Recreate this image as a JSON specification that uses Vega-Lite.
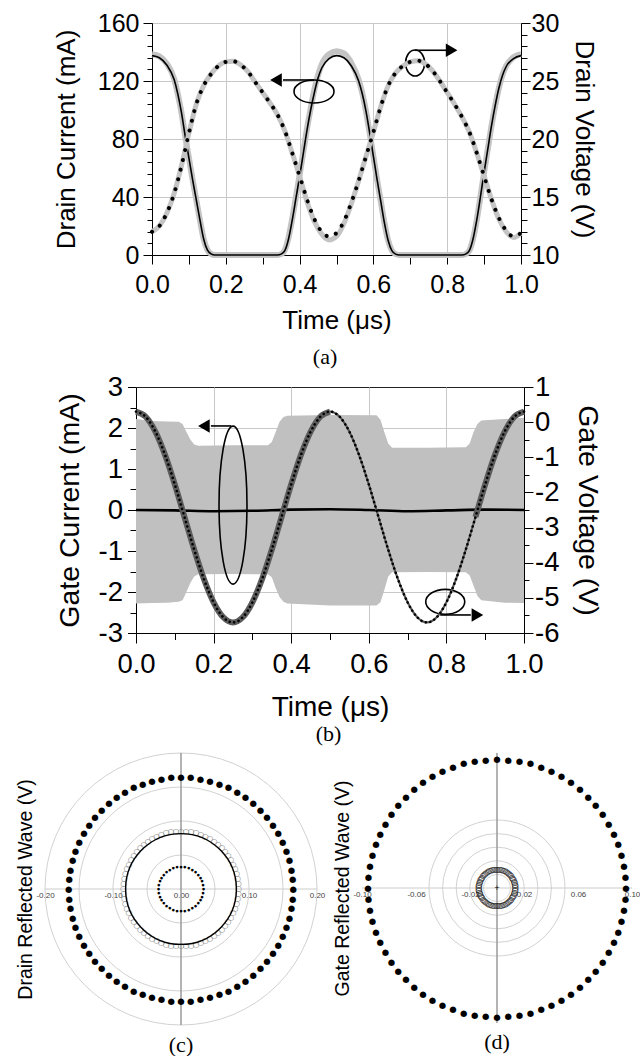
{
"$schema":"https://vega.github.io/schema/vega-lite/v6.json",
"background":"white",
"padding":{"left":15,"top":10,"right":0,"bottom":0},
"config":{
 "font":"Liberation Sans",
 "view":{"stroke":"#222","strokeWidth":1},
 "axis":{"labelFont":"Liberation Sans","titleFont":"Liberation Sans","labelColor":"black","titleColor":"black","tickColor":"black","domainColor":"black","gridColor":"#c8c8c8","titleFontWeight":"normal","labelFlush":false,"labelOverlap":false,"tickWidth":1,"domainWidth":1},
 "title":{"font":"Liberation Serif","fontWeight":"normal","fontSize":22,"color":"black"}
},
"datasets":{
 "drainI":[
  {"t":0.00,"Id_sim":137.5,"Id_meas":138.5},{"t":0.02,"Id_sim":136,"Id_meas":137},{"t":0.04,"Id_sim":131,"Id_meas":132},{"t":0.06,"Id_sim":121,"Id_meas":121.5},{"t":0.07,"Id_sim":111,"Id_meas":111},{"t":0.08,"Id_sim":98,"Id_meas":98},{"t":0.09,"Id_sim":82,"Id_meas":82},{"t":0.10,"Id_sim":67,"Id_meas":67},{"t":0.11,"Id_sim":52,"Id_meas":52},{"t":0.12,"Id_sim":38,"Id_meas":38},{"t":0.13,"Id_sim":24,"Id_meas":24},{"t":0.14,"Id_sim":11,"Id_meas":11},{"t":0.15,"Id_sim":3.5,"Id_meas":3.5},{"t":0.16,"Id_sim":0.8,"Id_meas":0.8},{"t":0.17,"Id_sim":0,"Id_meas":0},
  {"t":0.34,"Id_sim":0,"Id_meas":0},{"t":0.35,"Id_sim":0.6,"Id_meas":0.6},{"t":0.36,"Id_sim":3,"Id_meas":3.5},{"t":0.37,"Id_sim":11,"Id_meas":12},{"t":0.38,"Id_sim":24,"Id_meas":25},{"t":0.39,"Id_sim":39,"Id_meas":40},{"t":0.40,"Id_sim":54,"Id_meas":55},{"t":0.41,"Id_sim":70,"Id_meas":71},{"t":0.42,"Id_sim":86,"Id_meas":87},{"t":0.43,"Id_sim":100,"Id_meas":101},{"t":0.44,"Id_sim":112,"Id_meas":114},{"t":0.45,"Id_sim":122,"Id_meas":124},{"t":0.46,"Id_sim":129,"Id_meas":131.5},{"t":0.48,"Id_sim":135.5,"Id_meas":138.5},{"t":0.50,"Id_sim":137.5,"Id_meas":140.5},{"t":0.52,"Id_sim":136,"Id_meas":139},{"t":0.54,"Id_sim":130.5,"Id_meas":132.5},{"t":0.56,"Id_sim":120,"Id_meas":121},{"t":0.57,"Id_sim":111,"Id_meas":111.5},{"t":0.58,"Id_sim":99,"Id_meas":99},{"t":0.59,"Id_sim":84,"Id_meas":84},{"t":0.60,"Id_sim":68,"Id_meas":68},{"t":0.61,"Id_sim":52,"Id_meas":52},{"t":0.62,"Id_sim":37,"Id_meas":37},{"t":0.63,"Id_sim":22,"Id_meas":22},{"t":0.64,"Id_sim":10,"Id_meas":10},{"t":0.65,"Id_sim":3,"Id_meas":3},{"t":0.66,"Id_sim":0.6,"Id_meas":0.6},{"t":0.67,"Id_sim":0,"Id_meas":0},
  {"t":0.84,"Id_sim":0,"Id_meas":0},{"t":0.85,"Id_sim":0.6,"Id_meas":0.6},{"t":0.86,"Id_sim":3,"Id_meas":3},{"t":0.87,"Id_sim":11,"Id_meas":11},{"t":0.88,"Id_sim":24,"Id_meas":24},{"t":0.89,"Id_sim":40,"Id_meas":40},{"t":0.90,"Id_sim":57,"Id_meas":57},{"t":0.91,"Id_sim":73,"Id_meas":73},{"t":0.92,"Id_sim":89,"Id_meas":89},{"t":0.93,"Id_sim":103,"Id_meas":103},{"t":0.94,"Id_sim":115,"Id_meas":115},{"t":0.95,"Id_sim":124,"Id_meas":124.5},{"t":0.96,"Id_sim":130,"Id_meas":130.5},{"t":0.98,"Id_sim":135.5,"Id_meas":136.5},{"t":1.00,"Id_sim":137.5,"Id_meas":138.5}
 ],
 "drainV":[
  {"t":0.00,"Vd_sim":12.0,"Vd_meas":12.0},{"t":0.02,"Vd_sim":12.5,"Vd_meas":12.5},{"t":0.04,"Vd_sim":13.6,"Vd_meas":13.6},{"t":0.06,"Vd_sim":15.3,"Vd_meas":15.3},{"t":0.08,"Vd_sim":17.7,"Vd_meas":17.7},{"t":0.10,"Vd_sim":20.5,"Vd_meas":20.5},{"t":0.12,"Vd_sim":23.0,"Vd_meas":23.0},{"t":0.14,"Vd_sim":24.6,"Vd_meas":24.6},{"t":0.16,"Vd_sim":25.6,"Vd_meas":25.6},{"t":0.18,"Vd_sim":26.3,"Vd_meas":26.3},{"t":0.20,"Vd_sim":26.65,"Vd_meas":26.65},{"t":0.22,"Vd_sim":26.7,"Vd_meas":26.7},{"t":0.24,"Vd_sim":26.4,"Vd_meas":26.4},{"t":0.26,"Vd_sim":25.8,"Vd_meas":25.8},{"t":0.28,"Vd_sim":24.9,"Vd_meas":24.9},{"t":0.30,"Vd_sim":24.0,"Vd_meas":24.0},{"t":0.32,"Vd_sim":23.1,"Vd_meas":23.1},{"t":0.34,"Vd_sim":22.1,"Vd_meas":22.1},{"t":0.36,"Vd_sim":20.7,"Vd_meas":20.7},{"t":0.38,"Vd_sim":18.8,"Vd_meas":18.8},{"t":0.40,"Vd_sim":16.8,"Vd_meas":16.8},{"t":0.42,"Vd_sim":14.8,"Vd_meas":14.6},{"t":0.44,"Vd_sim":13.1,"Vd_meas":12.9},{"t":0.46,"Vd_sim":12.0,"Vd_meas":11.8},{"t":0.48,"Vd_sim":11.6,"Vd_meas":11.3},{"t":0.50,"Vd_sim":11.9,"Vd_meas":11.6},{"t":0.52,"Vd_sim":12.9,"Vd_meas":12.7},{"t":0.54,"Vd_sim":14.5,"Vd_meas":14.4},{"t":0.56,"Vd_sim":16.4,"Vd_meas":16.4},{"t":0.58,"Vd_sim":18.5,"Vd_meas":18.5},{"t":0.60,"Vd_sim":20.6,"Vd_meas":20.6},{"t":0.62,"Vd_sim":22.8,"Vd_meas":22.8},{"t":0.64,"Vd_sim":24.6,"Vd_meas":24.6},{"t":0.66,"Vd_sim":25.7,"Vd_meas":25.7},{"t":0.68,"Vd_sim":26.3,"Vd_meas":26.3},{"t":0.70,"Vd_sim":26.65,"Vd_meas":26.65},{"t":0.72,"Vd_sim":26.75,"Vd_meas":26.75},{"t":0.74,"Vd_sim":26.5,"Vd_meas":26.5},{"t":0.76,"Vd_sim":25.9,"Vd_meas":25.9},{"t":0.78,"Vd_sim":25.0,"Vd_meas":25.0},{"t":0.80,"Vd_sim":24.0,"Vd_meas":24.0},{"t":0.82,"Vd_sim":23.0,"Vd_meas":23.0},{"t":0.84,"Vd_sim":21.9,"Vd_meas":21.9},{"t":0.86,"Vd_sim":20.6,"Vd_meas":20.6},{"t":0.88,"Vd_sim":18.8,"Vd_meas":18.8},{"t":0.90,"Vd_sim":16.8,"Vd_meas":16.8},{"t":0.92,"Vd_sim":14.8,"Vd_meas":14.8},{"t":0.94,"Vd_sim":13.2,"Vd_meas":13.1},{"t":0.96,"Vd_sim":12.1,"Vd_meas":12.0},{"t":0.98,"Vd_sim":11.6,"Vd_meas":11.5},{"t":1.00,"Vd_sim":11.9,"Vd_meas":11.9}
 ],
 "annA":[
  {"id":"ellL","t":0.439,"y":112.8},
  {"id":"ellR","t":0.713,"y":132.4},
  {"id":"line","t":0.439,"t2":0.355,"y":120.7},
  {"id":"line","t":0.713,"t2":0.797,"y":141.2},
  {"id":"headL","t":0.336,"y":120.7},
  {"id":"headR","t":0.812,"y":141.2}
 ],
 "gateBand":[
  {"t":0.00,"hi":2.22,"lo":-2.28},{"t":0.04,"hi":2.17,"lo":-2.27},{"t":0.08,"hi":2.16,"lo":-2.26},{"t":0.11,"hi":2.15,"lo":-2.24},{"t":0.12,"hi":2.1,"lo":-2.2},{"t":0.13,"hi":1.9,"lo":-2.0},{"t":0.14,"hi":1.72,"lo":-1.78},{"t":0.15,"hi":1.6,"lo":-1.62},{"t":0.16,"hi":1.57,"lo":-1.57},{"t":0.25,"hi":1.58,"lo":-1.56},{"t":0.34,"hi":1.58,"lo":-1.57},{"t":0.35,"hi":1.66,"lo":-1.64},{"t":0.36,"hi":1.9,"lo":-1.9},{"t":0.37,"hi":2.15,"lo":-2.12},{"t":0.38,"hi":2.27,"lo":-2.24},{"t":0.39,"hi":2.3,"lo":-2.28},{"t":0.50,"hi":2.32,"lo":-2.33},{"t":0.62,"hi":2.31,"lo":-2.33},{"t":0.63,"hi":2.2,"lo":-2.25},{"t":0.64,"hi":1.9,"lo":-1.95},{"t":0.65,"hi":1.62,"lo":-1.62},{"t":0.66,"hi":1.52,"lo":-1.52},{"t":0.75,"hi":1.52,"lo":-1.51},{"t":0.85,"hi":1.53,"lo":-1.52},{"t":0.86,"hi":1.62,"lo":-1.6},{"t":0.87,"hi":1.9,"lo":-1.85},{"t":0.88,"hi":2.1,"lo":-2.1},{"t":0.89,"hi":2.18,"lo":-2.2},{"t":0.95,"hi":2.22,"lo":-2.26},{"t":1.00,"hi":2.25,"lo":-2.27}
 ],
 "gateI":[
  {"t":0,"Ig":0.0},{"t":0.1,"Ig":-0.01},{"t":0.2,"Ig":-0.03},{"t":0.3,"Ig":-0.02},{"t":0.4,"Ig":0.01},{"t":0.5,"Ig":0.02},{"t":0.6,"Ig":0.0},{"t":0.7,"Ig":-0.03},{"t":0.8,"Ig":-0.01},{"t":0.9,"Ig":0.01},{"t":1.0,"Ig":0.0}
 ],
 "gateV":[
  {"t":0,"Vg":0.3},{"t":0.025,"Vg":0.153},{"t":0.05,"Vg":-0.273},{"t":0.075,"Vg":-0.937},{"t":0.1,"Vg":-1.773},{"t":0.125,"Vg":-2.7},{"t":0.15,"Vg":-3.627},{"t":0.175,"Vg":-4.463},{"t":0.2,"Vg":-5.127},{"t":0.225,"Vg":-5.553},{"t":0.25,"Vg":-5.7},{"t":0.275,"Vg":-5.553},{"t":0.3,"Vg":-5.127},{"t":0.325,"Vg":-4.463},{"t":0.35,"Vg":-3.627},{"t":0.375,"Vg":-2.7},{"t":0.4,"Vg":-1.773},{"t":0.425,"Vg":-0.937},{"t":0.45,"Vg":-0.273},{"t":0.475,"Vg":0.153},{"t":0.5,"Vg":0.3},{"t":0.525,"Vg":0.153},{"t":0.55,"Vg":-0.273},{"t":0.575,"Vg":-0.937},{"t":0.6,"Vg":-1.773},{"t":0.625,"Vg":-2.7},{"t":0.65,"Vg":-3.627},{"t":0.675,"Vg":-4.463},{"t":0.7,"Vg":-5.127},{"t":0.725,"Vg":-5.553},{"t":0.75,"Vg":-5.7},{"t":0.775,"Vg":-5.553},{"t":0.8,"Vg":-5.127},{"t":0.825,"Vg":-4.463},{"t":0.85,"Vg":-3.627},{"t":0.875,"Vg":-2.7},{"t":0.9,"Vg":-1.773},{"t":0.925,"Vg":-0.937},{"t":0.95,"Vg":-0.273},{"t":0.975,"Vg":0.153},{"t":1.0,"Vg":0.3}
 ],
 "annB":[
  {"id":"ellL","t":0.25,"y":0.12},
  {"id":"ellR","t":0.797,"y":-2.24},
  {"id":"line","t":0.245,"t2":0.193,"y":2.05},
  {"id":"line","t":0.784,"t2":0.863,"y":-2.56},
  {"id":"headL","t":0.175,"y":2.05},
  {"id":"headR","t":0.88,"y":-2.56}
 ],
 "gridC":[{"g":0.05},{"g":0.1},{"g":0.15},{"g":0.2}],
 "gridD":[{"g":0.02},{"g":0.04},{"g":0.06},{"g":0.08},{"g":0.1}],
 "solidC":[{"g":0.0815}],
 "centerD":[{"a":0,"r":0}],
 "innerC":[
  {"a":0,"r":0.033},{"a":10,"r":0.033},{"a":20,"r":0.033},{"a":30,"r":0.033},{"a":40,"r":0.033},{"a":50,"r":0.033},{"a":60,"r":0.033},{"a":70,"r":0.033},{"a":80,"r":0.033},{"a":90,"r":0.033},{"a":100,"r":0.033},{"a":110,"r":0.033},{"a":120,"r":0.033},{"a":130,"r":0.033},{"a":140,"r":0.033},{"a":150,"r":0.033},{"a":160,"r":0.033},{"a":170,"r":0.033},{"a":180,"r":0.033},{"a":190,"r":0.033},{"a":200,"r":0.033},{"a":210,"r":0.033},{"a":220,"r":0.033},{"a":230,"r":0.033},{"a":240,"r":0.033},{"a":250,"r":0.033},{"a":260,"r":0.033},{"a":270,"r":0.033},{"a":280,"r":0.033},{"a":290,"r":0.033},{"a":300,"r":0.033},{"a":310,"r":0.033},{"a":320,"r":0.033},{"a":330,"r":0.033},{"a":340,"r":0.033},{"a":350,"r":0.033}
 ],
 "polarC":[
  {"a":0,"outer":0.165,"hollow":0.0845},{"a":5,"outer":0.165,"hollow":0.0845},{"a":10,"outer":0.165,"hollow":0.0845},{"a":15,"outer":0.165,"hollow":0.0845},{"a":20,"outer":0.165,"hollow":0.0845},{"a":25,"outer":0.165,"hollow":0.0845},{"a":30,"outer":0.165,"hollow":0.0845},{"a":35,"outer":0.165,"hollow":0.0845},{"a":40,"outer":0.165,"hollow":0.0845},{"a":45,"outer":0.165,"hollow":0.0845},{"a":50,"outer":0.165,"hollow":0.0845},{"a":55,"outer":0.165,"hollow":0.0845},{"a":60,"outer":0.165,"hollow":0.0845},{"a":65,"outer":0.165,"hollow":0.0845},{"a":70,"outer":0.165,"hollow":0.0845},{"a":75,"outer":0.165,"hollow":0.0845},{"a":80,"outer":0.165,"hollow":0.0845},{"a":85,"outer":0.165,"hollow":0.0845},{"a":90,"outer":0.165,"hollow":0.0845},{"a":95,"outer":0.165,"hollow":0.0845},{"a":100,"outer":0.165,"hollow":0.0845},{"a":105,"outer":0.165,"hollow":0.0845},{"a":110,"outer":0.165,"hollow":0.0845},{"a":115,"outer":0.165,"hollow":0.0845},{"a":120,"outer":0.165,"hollow":0.0845},{"a":125,"outer":0.165,"hollow":0.0845},{"a":130,"outer":0.165,"hollow":0.0845},{"a":135,"outer":0.165,"hollow":0.0845},{"a":140,"outer":0.165,"hollow":0.0845},{"a":145,"outer":0.165,"hollow":0.0845},{"a":150,"outer":0.165,"hollow":0.0845},{"a":155,"outer":0.165,"hollow":0.0845},{"a":160,"outer":0.165,"hollow":0.0845},{"a":165,"outer":0.165,"hollow":0.0845},{"a":170,"outer":0.165,"hollow":0.0845},{"a":175,"outer":0.165,"hollow":0.0845},{"a":180,"outer":0.165,"hollow":0.0845},{"a":185,"outer":0.165,"hollow":0.0845},{"a":190,"outer":0.165,"hollow":0.0845},{"a":195,"outer":0.165,"hollow":0.0845},{"a":200,"outer":0.165,"hollow":0.0845},{"a":205,"outer":0.165,"hollow":0.0845},{"a":210,"outer":0.165,"hollow":0.0845},{"a":215,"outer":0.165,"hollow":0.0845},{"a":220,"outer":0.165,"hollow":0.0845},{"a":225,"outer":0.165,"hollow":0.0845},{"a":230,"outer":0.165,"hollow":0.0845},{"a":235,"outer":0.165,"hollow":0.0845},{"a":240,"outer":0.165,"hollow":0.0845},{"a":245,"outer":0.165,"hollow":0.0845},{"a":250,"outer":0.165,"hollow":0.0845},{"a":255,"outer":0.165,"hollow":0.0845},{"a":260,"outer":0.165,"hollow":0.0845},{"a":265,"outer":0.165,"hollow":0.0845},{"a":270,"outer":0.165,"hollow":0.0845},{"a":275,"outer":0.165,"hollow":0.0845},{"a":280,"outer":0.165,"hollow":0.0845},{"a":285,"outer":0.165,"hollow":0.0845},{"a":290,"outer":0.165,"hollow":0.0845},{"a":295,"outer":0.165,"hollow":0.0845},{"a":300,"outer":0.165,"hollow":0.0845},{"a":305,"outer":0.165,"hollow":0.0845},{"a":310,"outer":0.165,"hollow":0.0845},{"a":315,"outer":0.165,"hollow":0.0845},{"a":320,"outer":0.165,"hollow":0.0845},{"a":325,"outer":0.165,"hollow":0.0845},{"a":330,"outer":0.165,"hollow":0.0845},{"a":335,"outer":0.165,"hollow":0.0845},{"a":340,"outer":0.165,"hollow":0.0845},{"a":345,"outer":0.165,"hollow":0.0845},{"a":350,"outer":0.165,"hollow":0.0845},{"a":355,"outer":0.165,"hollow":0.0845}
 ],
 "polarD":[
  {"a":0,"outer":0.0955,"ring":0.0135},{"a":5,"outer":0.0955,"ring":0.0135},{"a":10,"outer":0.0955,"ring":0.0135},{"a":15,"outer":0.0955,"ring":0.0135},{"a":20,"outer":0.0955,"ring":0.0135},{"a":25,"outer":0.0955,"ring":0.0135},{"a":30,"outer":0.0955,"ring":0.0135},{"a":35,"outer":0.0955,"ring":0.0135},{"a":40,"outer":0.0955,"ring":0.0135},{"a":45,"outer":0.0955,"ring":0.0135},{"a":50,"outer":0.0955,"ring":0.0135},{"a":55,"outer":0.0955,"ring":0.0135},{"a":60,"outer":0.0955,"ring":0.0135},{"a":65,"outer":0.0955,"ring":0.0135},{"a":70,"outer":0.0955,"ring":0.0135},{"a":75,"outer":0.0955,"ring":0.0135},{"a":80,"outer":0.0955,"ring":0.0135},{"a":85,"outer":0.0955,"ring":0.0135},{"a":90,"outer":0.0955,"ring":0.0135},{"a":95,"outer":0.0955,"ring":0.0135},{"a":100,"outer":0.0955,"ring":0.0135},{"a":105,"outer":0.0955,"ring":0.0135},{"a":110,"outer":0.0955,"ring":0.0135},{"a":115,"outer":0.0955,"ring":0.0135},{"a":120,"outer":0.0955,"ring":0.0135},{"a":125,"outer":0.0955,"ring":0.0135},{"a":130,"outer":0.0955,"ring":0.0135},{"a":135,"outer":0.0955,"ring":0.0135},{"a":140,"outer":0.0955,"ring":0.0135},{"a":145,"outer":0.0955,"ring":0.0135},{"a":150,"outer":0.0955,"ring":0.0135},{"a":155,"outer":0.0955,"ring":0.0135},{"a":160,"outer":0.0955,"ring":0.0135},{"a":165,"outer":0.0955,"ring":0.0135},{"a":170,"outer":0.0955,"ring":0.0135},{"a":175,"outer":0.0955,"ring":0.0135},{"a":180,"outer":0.0955,"ring":0.0135},{"a":185,"outer":0.0955,"ring":0.0135},{"a":190,"outer":0.0955,"ring":0.0135},{"a":195,"outer":0.0955,"ring":0.0135},{"a":200,"outer":0.0955,"ring":0.0135},{"a":205,"outer":0.0955,"ring":0.0135},{"a":210,"outer":0.0955,"ring":0.0135},{"a":215,"outer":0.0955,"ring":0.0135},{"a":220,"outer":0.0955,"ring":0.0135},{"a":225,"outer":0.0955,"ring":0.0135},{"a":230,"outer":0.0955,"ring":0.0135},{"a":235,"outer":0.0955,"ring":0.0135},{"a":240,"outer":0.0955,"ring":0.0135},{"a":245,"outer":0.0955,"ring":0.0135},{"a":250,"outer":0.0955,"ring":0.0135},{"a":255,"outer":0.0955,"ring":0.0135},{"a":260,"outer":0.0955,"ring":0.0135},{"a":265,"outer":0.0955,"ring":0.0135},{"a":270,"outer":0.0955,"ring":0.0135},{"a":275,"outer":0.0955,"ring":0.0135},{"a":280,"outer":0.0955,"ring":0.0135},{"a":285,"outer":0.0955,"ring":0.0135},{"a":290,"outer":0.0955,"ring":0.0135},{"a":295,"outer":0.0955,"ring":0.0135},{"a":300,"outer":0.0955,"ring":0.0135},{"a":305,"outer":0.0955,"ring":0.0135},{"a":310,"outer":0.0955,"ring":0.0135},{"a":315,"outer":0.0955,"ring":0.0135},{"a":320,"outer":0.0955,"ring":0.0135},{"a":325,"outer":0.0955,"ring":0.0135},{"a":330,"outer":0.0955,"ring":0.0135},{"a":335,"outer":0.0955,"ring":0.0135},{"a":340,"outer":0.0955,"ring":0.0135},{"a":345,"outer":0.0955,"ring":0.0135},{"a":350,"outer":0.0955,"ring":0.0135},{"a":355,"outer":0.0955,"ring":0.0135}
 ]
},
"spacing":6,
"vconcat":[
 {"spacing":3,"vconcat":[
 {"spacing":0,"hconcat":[
  {"width":7,"height":10,"view":{"stroke":null,"fill":"white"},"data":{"values":[]},"mark":"point","encoding":{}},
  {
   "width":369,"height":232,
   "title":{"text":"(a)","orient":"bottom","offset":14,"frame":"bounds","anchor":"middle","fontSize":22,"font":"Liberation Serif"},
   "encoding":{"x":{"field":"t","type":"quantitative","scale":{"domain":[0,1],"nice":false,"zero":false},
     "axis":{"values":[0,0.1,0.2,0.3,0.4,0.5,0.6,0.7,0.8,0.9,1],"labelExpr":"round(datum.value*10)%2==0 ? format(datum.value,'.1f') : ''","title":"Time (μs)","grid":true,"gridOpacity":{"condition":{"test":"round(datum.value*10)%2==0","value":1},"value":0},"tickSize":9,"labelFontSize":25,"titleFontSize":26,"labelPadding":8,"titlePadding":10,"labelOverlap":false}}},
   "layer":[
    {"layer":[
     {"data":{"name":"drainI"},"mark":{"type":"line","color":"#c4c4c4","strokeWidth":6,"interpolate":"monotone"},
      "encoding":{"y":{"field":"Id_meas","type":"quantitative","scale":{"domain":[0,160],"nice":false,"zero":false},
        "axis":{"orient":"left","values":[0,8,16,24,32,40,48,56,64,72,80,88,96,104,112,120,128,136,144,152,160],"labelExpr":"datum.value%40==0 ? ''+datum.value : ''","title":"Drain Current (mA)","grid":true,"gridOpacity":{"condition":{"test":"datum.value%40==0","value":1},"value":0},"tickSize":{"condition":{"test":"datum.value%40==0","value":9},"value":5},"labelFontSize":25,"titleFontSize":26,"labelPadding":4,"titlePadding":18,"labelOverlap":false}}}},
     {"data":{"name":"drainI"},"mark":{"type":"line","color":"black","strokeWidth":1.6,"interpolate":"monotone"},
      "encoding":{"y":{"field":"Id_sim","type":"quantitative","scale":{"domain":[0,160],"nice":false,"zero":false},
        "axis":{"orient":"left","values":[0,8,16,24,32,40,48,56,64,72,80,88,96,104,112,120,128,136,144,152,160],"labelExpr":"datum.value%40==0 ? ''+datum.value : ''","title":"Drain Current (mA)","grid":true,"gridOpacity":{"condition":{"test":"datum.value%40==0","value":1},"value":0},"tickSize":{"condition":{"test":"datum.value%40==0","value":9},"value":5},"labelFontSize":25,"titleFontSize":26,"labelPadding":4,"titlePadding":18,"labelOverlap":false}}}},
     {"data":{"name":"annA"},"transform":[{"filter":"datum.id=='ellL'"}],
      "mark":{"type":"point","shape":"M-1,0C-1,-0.318,-0.552,-0.575,0,-0.575C0.552,-0.575,1,-0.318,1,0C1,0.318,0.552,0.575,0,0.575C-0.552,0.575,-1,0.318,-1,0Z","size":1600,"filled":false,"color":"black","strokeWidth":1.6,"opacity":1},
      "encoding":{"y":{"field":"y","type":"quantitative","scale":{"domain":[0,160],"nice":false,"zero":false},
        "axis":{"orient":"left","values":[0,8,16,24,32,40,48,56,64,72,80,88,96,104,112,120,128,136,144,152,160],"labelExpr":"datum.value%40==0 ? ''+datum.value : ''","title":"Drain Current (mA)","grid":true,"gridOpacity":{"condition":{"test":"datum.value%40==0","value":1},"value":0},"tickSize":{"condition":{"test":"datum.value%40==0","value":9},"value":5},"labelFontSize":25,"titleFontSize":26,"labelPadding":4,"titlePadding":18,"labelOverlap":false}}}},
     {"data":{"name":"annA"},"transform":[{"filter":"datum.id=='ellR'"}],
      "mark":{"type":"point","shape":"M0,-1C0.404,-1,0.731,-0.552,0.731,0C0.731,0.552,0.404,1,0,1C-0.404,1,-0.731,0.552,-0.731,0C-0.731,-0.552,-0.404,-1,0,-1Z","size":676,"filled":false,"color":"black","strokeWidth":1.6,"opacity":1},
      "encoding":{"y":{"field":"y","type":"quantitative","scale":{"domain":[0,160],"nice":false,"zero":false},
        "axis":{"orient":"left","values":[0,8,16,24,32,40,48,56,64,72,80,88,96,104,112,120,128,136,144,152,160],"labelExpr":"datum.value%40==0 ? ''+datum.value : ''","title":"Drain Current (mA)","grid":true,"gridOpacity":{"condition":{"test":"datum.value%40==0","value":1},"value":0},"tickSize":{"condition":{"test":"datum.value%40==0","value":9},"value":5},"labelFontSize":25,"titleFontSize":26,"labelPadding":4,"titlePadding":18,"labelOverlap":false}}}},
     {"data":{"name":"annA"},"transform":[{"filter":"datum.id=='line'"}],
      "mark":{"type":"rule","color":"black","strokeWidth":1.6},
      "encoding":{"x2":{"field":"t2"},"y":{"field":"y","type":"quantitative","scale":{"domain":[0,160],"nice":false,"zero":false},
        "axis":{"orient":"left","values":[0,8,16,24,32,40,48,56,64,72,80,88,96,104,112,120,128,136,144,152,160],"labelExpr":"datum.value%40==0 ? ''+datum.value : ''","title":"Drain Current (mA)","grid":true,"gridOpacity":{"condition":{"test":"datum.value%40==0","value":1},"value":0},"tickSize":{"condition":{"test":"datum.value%40==0","value":9},"value":5},"labelFontSize":25,"titleFontSize":26,"labelPadding":4,"titlePadding":18,"labelOverlap":false}}}},
     {"data":{"name":"annA"},"transform":[{"filter":"datum.id=='headL'"}],
      "mark":{"type":"point","shape":"triangle-left","size":180,"filled":true,"color":"black","opacity":1},
      "encoding":{"y":{"field":"y","type":"quantitative","scale":{"domain":[0,160],"nice":false,"zero":false},
        "axis":{"orient":"left","values":[0,8,16,24,32,40,48,56,64,72,80,88,96,104,112,120,128,136,144,152,160],"labelExpr":"datum.value%40==0 ? ''+datum.value : ''","title":"Drain Current (mA)","grid":true,"gridOpacity":{"condition":{"test":"datum.value%40==0","value":1},"value":0},"tickSize":{"condition":{"test":"datum.value%40==0","value":9},"value":5},"labelFontSize":25,"titleFontSize":26,"labelPadding":4,"titlePadding":18,"labelOverlap":false}}}},
     {"data":{"name":"annA"},"transform":[{"filter":"datum.id=='headR'"}],
      "mark":{"type":"point","shape":"triangle-right","size":180,"filled":true,"color":"black","opacity":1},
      "encoding":{"y":{"field":"y","type":"quantitative","scale":{"domain":[0,160],"nice":false,"zero":false},
        "axis":{"orient":"left","values":[0,8,16,24,32,40,48,56,64,72,80,88,96,104,112,120,128,136,144,152,160],"labelExpr":"datum.value%40==0 ? ''+datum.value : ''","title":"Drain Current (mA)","grid":true,"gridOpacity":{"condition":{"test":"datum.value%40==0","value":1},"value":0},"tickSize":{"condition":{"test":"datum.value%40==0","value":9},"value":5},"labelFontSize":25,"titleFontSize":26,"labelPadding":4,"titlePadding":18,"labelOverlap":false}}}}
    ]},
    {"layer":[
     {"data":{"name":"drainV"},"mark":{"type":"line","color":"#c4c4c4","strokeWidth":5,"interpolate":"monotone"},
      "encoding":{"y":{"field":"Vd_meas","type":"quantitative","scale":{"domain":[10,30],"nice":false,"zero":false},
        "axis":{"orient":"right","values":[10,11,12,13,14,15,16,17,18,19,20,21,22,23,24,25,26,27,28,29,30],"labelExpr":"datum.value%5==0 ? ''+datum.value : ''","title":"Drain Voltage (V)","grid":false,"tickSize":{"condition":{"test":"datum.value%5==0","value":9},"value":6},"labelFontSize":25,"titleFontSize":26,"labelPadding":1,"titlePadding":12,"labelOverlap":false}}}},
     {"data":{"name":"drainV"},"mark":{"type":"line","color":"black","strokeWidth":4,"strokeDash":[0.01,10],"strokeCap":"round","interpolate":"monotone"},
      "encoding":{"y":{"field":"Vd_sim","type":"quantitative","scale":{"domain":[10,30],"nice":false,"zero":false},
        "axis":{"orient":"right","values":[10,11,12,13,14,15,16,17,18,19,20,21,22,23,24,25,26,27,28,29,30],"labelExpr":"datum.value%5==0 ? ''+datum.value : ''","title":"Drain Voltage (V)","grid":false,"tickSize":{"condition":{"test":"datum.value%5==0","value":9},"value":6},"labelFontSize":25,"titleFontSize":26,"labelPadding":1,"titlePadding":12,"labelOverlap":false}}}}
    ]}
   ],
   "resolve":{"scale":{"y":"independent"}}
  }
 ]},
 {"spacing":0,"hconcat":[
  {"width":9,"height":10,"view":{"stroke":null,"fill":"white"},"data":{"values":[]},"mark":"point","encoding":{}},
  {
   "width":388,"height":246,
   "title":{"text":"(b)","orient":"bottom","offset":2,"frame":"bounds","anchor":"middle","fontSize":22,"font":"Liberation Serif"},
   "encoding":{"x":{"field":"t","type":"quantitative","scale":{"domain":[0,1],"nice":false,"zero":false},
     "axis":{"values":[0,0.1,0.2,0.3,0.4,0.5,0.6,0.7,0.8,0.9,1],"labelExpr":"round(datum.value*10)%2==0 ? format(datum.value,'.1f') : ''","title":"Time (μs)","grid":true,"gridOpacity":{"condition":{"test":"round(datum.value*10)%2==0","value":1},"value":0},"tickSize":{"condition":{"test":"round(datum.value*10)%2==0","value":10},"value":6.5},"labelFontSize":27.5,"titleFontSize":28,"labelPadding":7,"titlePadding":16,"labelOverlap":false}}},
   "layer":[
    {"layer":[
     {"data":{"name":"gateBand"},"mark":{"type":"area","color":"#c0c0c0","opacity":1},
      "encoding":{"y":{"field":"hi","type":"quantitative","scale":{"domain":[-3,3],"nice":false,"zero":false},
        "axis":{"orient":"left","values":[-3,-2.5,-2,-1.5,-1,-0.5,0,0.5,1,1.5,2,2.5,3],"labelExpr":"datum.value%1==0 ? ''+datum.value : ''","title":"Gate Current (mA)","grid":true,"gridOpacity":{"condition":{"test":"datum.value%2==0","value":1},"value":0},"tickSize":{"condition":{"test":"datum.value%1==0","value":8.5},"value":6},"labelFontSize":27.5,"titleFontSize":28.5,"labelPadding":5,"titlePadding":14,"labelOverlap":false}},
       "y2":{"field":"lo"}}},
     {"data":{"name":"gateI"},"mark":{"type":"line","color":"black","strokeWidth":2.6,"interpolate":"monotone"},
      "encoding":{"y":{"field":"Ig","type":"quantitative","scale":{"domain":[-3,3],"nice":false,"zero":false},
        "axis":{"orient":"left","values":[-3,-2.5,-2,-1.5,-1,-0.5,0,0.5,1,1.5,2,2.5,3],"labelExpr":"datum.value%1==0 ? ''+datum.value : ''","title":"Gate Current (mA)","grid":true,"gridOpacity":{"condition":{"test":"datum.value%2==0","value":1},"value":0},"tickSize":{"condition":{"test":"datum.value%1==0","value":8.5},"value":6},"labelFontSize":27.5,"titleFontSize":28.5,"labelPadding":5,"titlePadding":14,"labelOverlap":false}}}},
     {"data":{"name":"annB"},"transform":[{"filter":"datum.id=='ellL'"}],
      "mark":{"type":"point","shape":"M0,-1C0.098,-1,0.177,-0.552,0.177,0C0.177,0.552,0.098,1,0,1C-0.098,1,-0.177,0.552,-0.177,0C-0.177,-0.552,-0.098,-1,0,-1Z","size":24964,"filled":false,"color":"black","strokeWidth":1.6,"opacity":1},
      "encoding":{"y":{"field":"y","type":"quantitative","scale":{"domain":[-3,3],"nice":false,"zero":false},
        "axis":{"orient":"left","values":[-3,-2.5,-2,-1.5,-1,-0.5,0,0.5,1,1.5,2,2.5,3],"labelExpr":"datum.value%1==0 ? ''+datum.value : ''","title":"Gate Current (mA)","grid":true,"gridOpacity":{"condition":{"test":"datum.value%2==0","value":1},"value":0},"tickSize":{"condition":{"test":"datum.value%1==0","value":8.5},"value":6},"labelFontSize":27.5,"titleFontSize":28.5,"labelPadding":5,"titlePadding":14,"labelOverlap":false}}}},
     {"data":{"name":"annB"},"transform":[{"filter":"datum.id=='ellR'"}],
      "mark":{"type":"point","shape":"M-1,0C-1,-0.354,-0.552,-0.641,0,-0.641C0.552,-0.641,1,-0.354,1,0C1,0.354,0.552,0.641,0,0.641C-0.552,0.641,-1,0.354,-1,0Z","size":1521,"filled":false,"color":"black","strokeWidth":1.6,"opacity":1},
      "encoding":{"y":{"field":"y","type":"quantitative","scale":{"domain":[-3,3],"nice":false,"zero":false},
        "axis":{"orient":"left","values":[-3,-2.5,-2,-1.5,-1,-0.5,0,0.5,1,1.5,2,2.5,3],"labelExpr":"datum.value%1==0 ? ''+datum.value : ''","title":"Gate Current (mA)","grid":true,"gridOpacity":{"condition":{"test":"datum.value%2==0","value":1},"value":0},"tickSize":{"condition":{"test":"datum.value%1==0","value":8.5},"value":6},"labelFontSize":27.5,"titleFontSize":28.5,"labelPadding":5,"titlePadding":14,"labelOverlap":false}}}},
     {"data":{"name":"annB"},"transform":[{"filter":"datum.id=='line'"}],
      "mark":{"type":"rule","color":"black","strokeWidth":1.6},
      "encoding":{"x2":{"field":"t2"},"y":{"field":"y","type":"quantitative","scale":{"domain":[-3,3],"nice":false,"zero":false},
        "axis":{"orient":"left","values":[-3,-2.5,-2,-1.5,-1,-0.5,0,0.5,1,1.5,2,2.5,3],"labelExpr":"datum.value%1==0 ? ''+datum.value : ''","title":"Gate Current (mA)","grid":true,"gridOpacity":{"condition":{"test":"datum.value%2==0","value":1},"value":0},"tickSize":{"condition":{"test":"datum.value%1==0","value":8.5},"value":6},"labelFontSize":27.5,"titleFontSize":28.5,"labelPadding":5,"titlePadding":14,"labelOverlap":false}}}},
     {"data":{"name":"annB"},"transform":[{"filter":"datum.id=='headL'"}],
      "mark":{"type":"point","shape":"triangle-left","size":180,"filled":true,"color":"black","opacity":1},
      "encoding":{"y":{"field":"y","type":"quantitative","scale":{"domain":[-3,3],"nice":false,"zero":false},
        "axis":{"orient":"left","values":[-3,-2.5,-2,-1.5,-1,-0.5,0,0.5,1,1.5,2,2.5,3],"labelExpr":"datum.value%1==0 ? ''+datum.value : ''","title":"Gate Current (mA)","grid":true,"gridOpacity":{"condition":{"test":"datum.value%2==0","value":1},"value":0},"tickSize":{"condition":{"test":"datum.value%1==0","value":8.5},"value":6},"labelFontSize":27.5,"titleFontSize":28.5,"labelPadding":5,"titlePadding":14,"labelOverlap":false}}}},
     {"data":{"name":"annB"},"transform":[{"filter":"datum.id=='headR'"}],
      "mark":{"type":"point","shape":"triangle-right","size":180,"filled":true,"color":"black","opacity":1},
      "encoding":{"y":{"field":"y","type":"quantitative","scale":{"domain":[-3,3],"nice":false,"zero":false},
        "axis":{"orient":"left","values":[-3,-2.5,-2,-1.5,-1,-0.5,0,0.5,1,1.5,2,2.5,3],"labelExpr":"datum.value%1==0 ? ''+datum.value : ''","title":"Gate Current (mA)","grid":true,"gridOpacity":{"condition":{"test":"datum.value%2==0","value":1},"value":0},"tickSize":{"condition":{"test":"datum.value%1==0","value":8.5},"value":6},"labelFontSize":27.5,"titleFontSize":28.5,"labelPadding":5,"titlePadding":14,"labelOverlap":false}}}}
    ]},
    {"layer":[
     {"data":{"name":"gateV"},"transform":[{"filter":"datum.t <= 0.5"}],"mark":{"type":"line","color":"#5c5c5c","strokeWidth":6,"interpolate":"monotone"},
      "encoding":{"y":{"field":"Vg","type":"quantitative","scale":{"domain":[-6,1],"nice":false,"zero":false},
        "axis":{"orient":"right","values":[-6,-5.5,-5,-4.5,-4,-3.5,-3,-2.5,-2,-1.5,-1,-0.5,0,0.5,1],"labelExpr":"datum.value%1==0 ? ''+datum.value : ''","title":"Gate Voltage (V)","grid":false,"tickSize":{"condition":{"test":"datum.value%1==0","value":9},"value":5},"labelFontSize":27.5,"titleFontSize":28.5,"labelPadding":1.5,"titlePadding":14,"labelOverlap":false}}}},
     {"data":{"name":"gateV"},"transform":[{"filter":"datum.t >= 0.875"}],"mark":{"type":"line","color":"#5c5c5c","strokeWidth":6,"interpolate":"monotone"},
      "encoding":{"y":{"field":"Vg","type":"quantitative","scale":{"domain":[-6,1],"nice":false,"zero":false},
        "axis":{"orient":"right","values":[-6,-5.5,-5,-4.5,-4,-3.5,-3,-2.5,-2,-1.5,-1,-0.5,0,0.5,1],"labelExpr":"datum.value%1==0 ? ''+datum.value : ''","title":"Gate Voltage (V)","grid":false,"tickSize":{"condition":{"test":"datum.value%1==0","value":9},"value":5},"labelFontSize":27.5,"titleFontSize":28.5,"labelPadding":1.5,"titlePadding":14,"labelOverlap":false}}}},
     {"data":{"name":"gateV"},"mark":{"type":"line","color":"#5c5c5c","strokeWidth":2.2,"interpolate":"monotone"},
      "encoding":{"y":{"field":"Vg","type":"quantitative","scale":{"domain":[-6,1],"nice":false,"zero":false},
        "axis":{"orient":"right","values":[-6,-5.5,-5,-4.5,-4,-3.5,-3,-2.5,-2,-1.5,-1,-0.5,0,0.5,1],"labelExpr":"datum.value%1==0 ? ''+datum.value : ''","title":"Gate Voltage (V)","grid":false,"tickSize":{"condition":{"test":"datum.value%1==0","value":9},"value":5},"labelFontSize":27.5,"titleFontSize":28.5,"labelPadding":1.5,"titlePadding":14,"labelOverlap":false}}}},
     {"data":{"name":"gateV"},"mark":{"type":"line","color":"black","strokeWidth":2.6,"strokeDash":[0.01,4.6],"strokeCap":"round","interpolate":"monotone"},
      "encoding":{"y":{"field":"Vg","type":"quantitative","scale":{"domain":[-6,1],"nice":false,"zero":false},
        "axis":{"orient":"right","values":[-6,-5.5,-5,-4.5,-4,-3.5,-3,-2.5,-2,-1.5,-1,-0.5,0,0.5,1],"labelExpr":"datum.value%1==0 ? ''+datum.value : ''","title":"Gate Voltage (V)","grid":false,"tickSize":{"condition":{"test":"datum.value%1==0","value":9},"value":5},"labelFontSize":27.5,"titleFontSize":28.5,"labelPadding":1.5,"titlePadding":14,"labelOverlap":false}}}}
    ]}
   ],
   "resolve":{"scale":{"y":"independent"}}
  }
 ]}
 ]},
 {"spacing":7,"hconcat":[
  {
   "width":272,"height":272,
   "view":{"stroke":null},
   "title":{"text":"(c)","orient":"bottom","offset":8,"frame":"group","anchor":"middle","fontSize":22,"font":"Liberation Serif"},
   "layer":[
    {"data":{"name":"gridC"},"mark":{"type":"point","shape":"circle","filled":false,"color":"#d2d2d2","strokeWidth":1,"opacity":1},
     "encoding":{"x":{"datum":0,"type":"quantitative","scale":{"domain":[-0.2,0.2],"nice":false,"zero":false}},
       "y":{"datum":0,"type":"quantitative","scale":{"domain":[-0.2,0.2],"nice":false,"zero":false}},
       "size":{"field":"g","type":"quantitative","scale":{"type":"pow","exponent":2,"domain":[0,0.2],"range":[0,73984],"zero":true},"legend":null}}},
    {"data":{"values":[{}]},"mark":{"type":"rule","color":"#cccccc","strokeWidth":1},
     "encoding":{"y":{"datum":0,"type":"quantitative","scale":{"domain":[-0.2,0.2],"nice":false,"zero":false},"axis":{"title":"Drain Reflected Wave (V)","labels":false,"ticks":false,"domain":false,"grid":false,"titleFontSize":19.5,"titlePadding":10}}}},
    {"data":{"values":[{}]},"mark":{"type":"rule","color":"#9a9a9a","strokeWidth":1.5},
     "encoding":{"x":{"datum":0,"type":"quantitative","scale":{"domain":[-0.2,0.2],"nice":false,"zero":false},"axis":{"values":[-0.2,-0.15,-0.1,-0.05,0,0.05,0.1,0.15,0.2],"labelExpr":"replace(format(datum.value,'.2f'),'−','-')","title":null,"offset":-136,"domain":false,"ticks":false,"tickSize":0,"grid":false,"labelFontSize":8,"labelColor":"#444","labelPadding":2,"labelOverlap":false}}}},
    {"data":{"name":"polarC"},"mark":{"type":"text","text":"○","font":"DejaVu Sans","fontSize":8,"color":"#777777"},
     "encoding":{"theta":{"field":"a","type":"quantitative","stack":null,"scale":{"type":"linear","domain":[0,360],"range":[0,6.2832],"zero":false,"nice":false}},
       "radius":{"field":"hollow","type":"quantitative","scale":{"type":"linear","domain":[0,0.2],"range":[0,136],"zero":true,"nice":false}}}},
    {"data":{"name":"solidC"},"mark":{"type":"point","shape":"circle","filled":false,"color":"black","strokeWidth":1.4,"opacity":1},
     "encoding":{"x":{"datum":0,"type":"quantitative","scale":{"domain":[-0.2,0.2],"nice":false,"zero":false}},
       "y":{"datum":0,"type":"quantitative","scale":{"domain":[-0.2,0.2],"nice":false,"zero":false}},
       "size":{"field":"g","type":"quantitative","scale":{"type":"pow","exponent":2,"domain":[0,0.2],"range":[0,73984],"zero":true},"legend":null}}},
    {"data":{"name":"polarC"},"mark":{"type":"text","text":"●","font":"DejaVu Sans","fontSize":8.5,"color":"black"},
     "encoding":{"theta":{"field":"a","type":"quantitative","stack":null,"scale":{"type":"linear","domain":[0,360],"range":[0,6.2832],"zero":false,"nice":false}},
       "radius":{"field":"outer","type":"quantitative","scale":{"type":"linear","domain":[0,0.2],"range":[0,136],"zero":true,"nice":false}}}},
    {"data":{"name":"innerC"},"mark":{"type":"text","text":"●","font":"DejaVu Sans","fontSize":3.5,"color":"black"},
     "encoding":{"theta":{"field":"a","type":"quantitative","stack":null,"scale":{"type":"linear","domain":[0,360],"range":[0,6.2832],"zero":false,"nice":false}},
       "radius":{"field":"r","type":"quantitative","scale":{"type":"linear","domain":[0,0.2],"range":[0,136],"zero":true,"nice":false}}}}
   ]
  },
  {
   "width":270,"height":270,
   "view":{"stroke":null},
   "title":{"text":"(d)","orient":"bottom","offset":8,"frame":"group","anchor":"middle","fontSize":22,"font":"Liberation Serif"},
   "layer":[
    {"data":{"name":"gridD"},"mark":{"type":"point","shape":"circle","filled":false,"color":"#d2d2d2","strokeWidth":1,"opacity":1},
     "encoding":{"x":{"datum":0,"type":"quantitative","scale":{"domain":[-0.1,0.1],"nice":false,"zero":false}},
       "y":{"datum":0,"type":"quantitative","scale":{"domain":[-0.1,0.1],"nice":false,"zero":false}},
       "size":{"field":"g","type":"quantitative","scale":{"type":"pow","exponent":2,"domain":[0,0.1],"range":[0,72900],"zero":true},"legend":null}}},
    {"data":{"values":[{}]},"mark":{"type":"rule","color":"#cccccc","strokeWidth":1},
     "encoding":{"y":{"datum":0,"type":"quantitative","scale":{"domain":[-0.1,0.1],"nice":false,"zero":false},"axis":{"title":"Gate Reflected Wave (V)","labels":false,"ticks":false,"domain":false,"grid":false,"titleFontSize":19.5,"titlePadding":10}}}},
    {"data":{"values":[{}]},"mark":{"type":"rule","color":"#9a9a9a","strokeWidth":1.5},
     "encoding":{"x":{"datum":0,"type":"quantitative","scale":{"domain":[-0.1,0.1],"nice":false,"zero":false},"axis":{"values":[-0.1,-0.08,-0.06,-0.04,-0.02,0,0.02,0.04,0.06,0.08,0.1],"labelExpr":"replace(format(datum.value,'.2f'),'−','-')","title":null,"offset":-135,"domain":false,"ticks":false,"tickSize":0,"grid":false,"labelFontSize":8,"labelColor":"#444","labelPadding":2,"labelOverlap":false}}}},
    {"data":{"name":"polarD"},"mark":{"type":"text","text":"○","font":"DejaVu Sans","fontSize":8,"color":"#000000"},
     "encoding":{"theta":{"field":"a","type":"quantitative","stack":null,"scale":{"type":"linear","domain":[0,360],"range":[0,6.2832],"zero":false,"nice":false}},
       "radius":{"field":"ring","type":"quantitative","scale":{"type":"linear","domain":[0,0.1],"range":[0,135],"zero":true,"nice":false}}}},
    {"data":{"name":"polarD"},"mark":{"type":"text","text":"●","font":"DejaVu Sans","fontSize":8.5,"color":"black"},
     "encoding":{"theta":{"field":"a","type":"quantitative","stack":null,"scale":{"type":"linear","domain":[0,360],"range":[0,6.2832],"zero":false,"nice":false}},
       "radius":{"field":"outer","type":"quantitative","scale":{"type":"linear","domain":[0,0.1],"range":[0,135],"zero":true,"nice":false}}}},
    {"data":{"name":"centerD"},"mark":{"type":"text","text":"+","font":"DejaVu Sans","fontSize":7,"color":"black"},
     "encoding":{"theta":{"field":"a","type":"quantitative","stack":null,"scale":{"type":"linear","domain":[0,360],"range":[0,6.2832],"zero":false,"nice":false}},
       "radius":{"field":"r","type":"quantitative","scale":{"type":"linear","domain":[0,0.1],"range":[0,135],"zero":true,"nice":false}}}}
   ]
  }
 ]}
]
}
